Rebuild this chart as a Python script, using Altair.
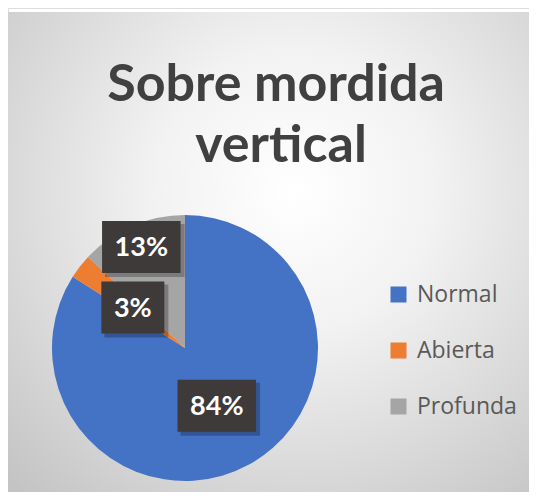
import altair as alt
import pandas as pd

# ---- data ----
categories = ["Normal", "Abierta", "Profunda"]
values = [84, 3, 13]
labels = ["84%", "3%", "13%"]
colors = ["#4472C4", "#ED7D31", "#A5A5A5"]
title_lines = ["Sobre mordida", "vertical"]

df = pd.DataFrame({"cat": categories, "value": values, "label": labels})

W, H = 521, 484
CX, CY, R = 177, 340, 133

# background with radial gradient
bg = alt.Chart(pd.DataFrame({"a": [0]})).mark_rect(
    fill={
        "gradient": "radial",
        "x1": 0.55, "y1": 0.38, "r1": 0.0,
        "x2": 0.55, "y2": 0.38, "r2": 0.78,
        "stops": [
            {"offset": 0, "color": "#ffffff"},
            {"offset": 0.35, "color": "#f2f2f2"},
            {"offset": 1, "color": "#c4c4c4"},
        ],
    }
).encode(x=alt.value(0), x2=alt.value(W), y=alt.value(4), y2=alt.value(H))

base = alt.Chart(df).transform_window(idx="row_number()")

pie = base.mark_arc(outerRadius=R).encode(
    theta=alt.Theta("value:Q", stack=True),
    color=alt.Color(
        "cat:N",
        scale=alt.Scale(domain=categories, range=colors),
        sort=categories,
        legend=alt.Legend(
            title=None,
            orient="none",
            legendX=379,
            legendY=275,
            symbolType="square",
            symbolSize=256,
            symbolStrokeWidth=0,
            symbolOpacity=1,
            labelFont="Open Sans",
            labelFontSize=23,
            labelColor="#595959",
            labelOffset=7,
            rowPadding=32,
        ),
    ),
    order=alt.Order("idx:Q"),
    x=alt.value(CX),
    y=alt.value(CY),
)

lab = (
    base.transform_joinaggregate(total="sum(value)")
    .transform_window(cum="sum(value)", sort=[alt.SortField("idx")], frame=[None, 0])
    .transform_calculate(
        ang="2*PI*(datum.cum - datum.value/2)/datum.total",
        rr="datum.cat == 'Profunda' ? 110 : 66",
        w="32 + 15.5*length(datum.label)",
    )
    .transform_calculate(
        px=f"{CX} + datum.rr*sin(datum.ang)",
        py=f"{CY} - datum.rr*cos(datum.ang)",
    )
    .transform_calculate(
        bx1="datum.px - datum.w/2",
        bx2="datum.px + datum.w/2",
        by1="datum.py - 26",
        by2="datum.py + 26",
        sx1="datum.px - datum.w/2 + 3",
        sx2="datum.px + datum.w/2 + 4",
        sy1="datum.py - 26 + 3",
        sy2="datum.py + 26 + 4",
    )
)

shadow = lab.mark_rect(fill="#000000", opacity=0.25).encode(
    x=alt.X("sx1:Q", scale=None, axis=None),
    x2="sx2:Q",
    y=alt.Y("sy1:Q", scale=None, axis=None),
    y2="sy2:Q",
)

boxes = lab.mark_rect(fill="#3d3a39").encode(
    x=alt.X("bx1:Q", scale=None, axis=None),
    x2="bx2:Q",
    y=alt.Y("by1:Q", scale=None, axis=None),
    y2="by2:Q",
)

texts = lab.mark_text(
    font="Lato", fontWeight="bold", fontSize=27, color="#ffffff",
    align="center", baseline="middle", dy=1,
).encode(
    x=alt.X("px:Q", scale=None, axis=None),
    y=alt.Y("py:Q", scale=None, axis=None),
    text="label:N",
)

t1 = alt.Chart(pd.DataFrame({"a": [0]})).mark_text(
    font="Lato", fontWeight="bold", fontSize=52, color="#404040",
    align="center", baseline="alphabetic",
).encode(x=alt.value(268), y=alt.value(93), text=alt.value(title_lines[0]))

t2 = alt.Chart(pd.DataFrame({"a": [0]})).mark_text(
    font="Lato", fontWeight="bold", fontSize=52, color="#404040",
    align="center", baseline="alphabetic",
).encode(x=alt.value(273), y=alt.value(154), text=alt.value(title_lines[1]))

chart = (
    alt.layer(bg, pie, shadow, boxes, texts, t1, t2)
    .properties(width=W, height=H, autosize=alt.AutoSizeParams(type="none"), padding=0)
    .configure_view(stroke=None)
    .configure(background="#ffffff")
)

chart.save("out.html", embed_options={"renderer": "svg", "actions": False})
